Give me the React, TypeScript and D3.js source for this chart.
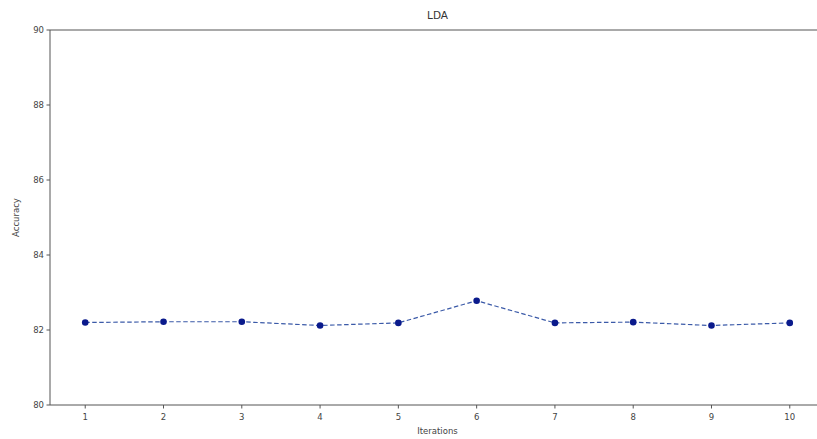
import React, { useEffect, useRef } from "react";
import * as d3 from "d3";

const iterations = [1, 2, 3, 4, 5, 6, 7, 8, 9, 10];
const accuracy = [82.2, 82.22, 82.22, 82.12, 82.19, 82.78, 82.19, 82.21, 82.12, 82.19];
const yTicks = [80, 82, 84, 86, 88, 90];
const titleText = "LDA";
const xLabel = "Iterations";
const yLabel = "Accuracy";

export default function App() {
  const ref = useRef<SVGSVGElement>(null);
  useEffect(() => {
    const svg = d3.select(ref.current);
    svg.selectAll("*").remove();
    const left = 50, right = 825, top = 30, bottom = 405;
    const x = d3.scaleLinear().domain([0.55, 10.45]).range([left, right]);
    const y = d3.scaleLinear().domain([80, 90]).range([bottom, top]);
    const font = "DejaVu Sans, sans-serif";
    const textColor = "#444";

    // spines
    svg.append("line").attr("x1", left).attr("x2", right).attr("y1", top).attr("y2", top).attr("stroke", "#555").attr("stroke-width", 1);
    svg.append("line").attr("x1", left).attr("x2", right).attr("y1", bottom).attr("y2", bottom).attr("stroke", "#555").attr("stroke-width", 1);
    svg.append("line").attr("x1", left).attr("x2", left).attr("y1", top).attr("y2", bottom).attr("stroke", "#555").attr("stroke-width", 1);

    // y ticks
    yTicks.forEach((t) => {
      const yy = y(t);
      svg.append("line").attr("x1", left - 3.5).attr("x2", left).attr("y1", yy).attr("y2", yy).attr("stroke", "#555");
      svg.append("text").attr("x", left - 6).attr("y", yy).attr("dy", "0.35em").attr("text-anchor", "end")
        .attr("font-family", font).attr("font-size", 8.5).attr("fill", textColor).text(String(t));
    });
    // x ticks
    iterations.forEach((t) => {
      const xx = x(t);
      svg.append("line").attr("x1", xx).attr("x2", xx).attr("y1", bottom).attr("y2", bottom + 3.5).attr("stroke", "#555");
      svg.append("text").attr("x", xx).attr("y", bottom + 15).attr("text-anchor", "middle")
        .attr("font-family", font).attr("font-size", 8.5).attr("fill", textColor).text(String(t));
    });

    // line
    const line = d3.line<number>().x((_, i) => x(iterations[i])).y((d) => y(d));
    svg.append("path").attr("d", line(accuracy) as string).attr("fill", "none")
      .attr("stroke", "#3b5aa8").attr("stroke-width", 1.2).attr("stroke-dasharray", "4.5,2.5");
    svg.selectAll("circle.pt").data(accuracy).enter().append("circle")
      .attr("cx", (_, i) => x(iterations[i])).attr("cy", (d) => y(d)).attr("r", 3.3).attr("fill", "#0a1a8c");

    // labels
    svg.append("text").attr("x", (left + right) / 2).attr("y", 19).attr("text-anchor", "middle")
      .attr("font-family", font).attr("font-size", 10.5).attr("fill", "#333").text(titleText);
    svg.append("text").attr("x", (left + right) / 2).attr("y", 434).attr("text-anchor", "middle")
      .attr("font-family", font).attr("font-size", 8.5).attr("fill", textColor).text(xLabel);
    svg.append("text").attr("transform", `translate(19,${(top + bottom) / 2}) rotate(-90)`).attr("text-anchor", "middle")
      .attr("font-family", font).attr("font-size", 8.5).attr("fill", textColor).text(yLabel);
  }, []);
  return (
    <svg ref={ref} width={817} height={439} style={{ position: "absolute", left: 0, top: 0, background: "#fff" }} />
  );
}
